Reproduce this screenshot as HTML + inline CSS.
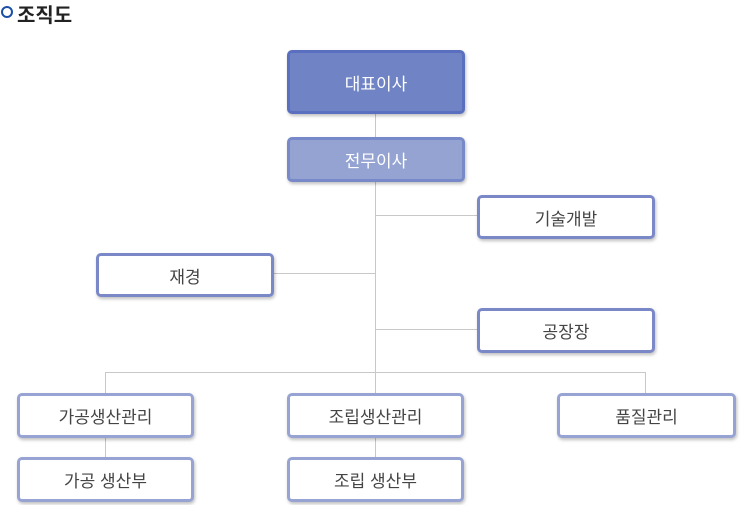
<!DOCTYPE html>
<html><head><meta charset="utf-8"><style>
body{margin:0;width:750px;height:505px;background:#fff;position:relative;overflow:hidden;font-family:"Liberation Sans","Noto Sans CJK KR",sans-serif}
.b{position:absolute;box-sizing:border-box;border:3px solid #7b88c8;border-radius:5px;background:#fff;color:#444;font-size:17px;display:flex;align-items:center;justify-content:center;box-shadow:1px 2px 3px rgba(0,0,0,.25)}
.l{border-color:#97a4d3}
.h{position:absolute;background:#c8c8c8;height:1px}
.v{position:absolute;background:#c8c8c8;width:1px}
</style></head><body>
<div style="position:absolute;left:1px;top:6px;width:8px;height:8px;border:2.5px solid #1b4fa8;border-radius:50%"></div>
<div style="position:absolute;left:17px;top:-1px;font-size:20px;font-weight:bold;color:#222">조직도</div>
<div class="v" style="left:375px;top:113px;height:259px"></div>
<div class="h" style="left:375px;top:215px;width:102px"></div>
<div class="h" style="left:273px;top:273px;width:102px"></div>
<div class="h" style="left:375px;top:329px;width:102px"></div>
<div class="h" style="left:105px;top:372px;width:541px"></div>
<div class="v" style="left:105px;top:372px;height:85px"></div>
<div class="v" style="left:375px;top:372px;height:85px"></div>
<div class="v" style="left:645px;top:372px;height:21px"></div>
<div class="b" style="left:287px;top:50px;width:178px;height:64px;background:#6f83c5;border-color:#5a6fc0;color:#fff">대표이사</div>
<div class="b" style="left:287px;top:137px;width:178px;height:45px;background:#94a3d2;border-color:#7889c9;color:#fff">전무이사</div>
<div class="b" style="left:477px;top:195px;width:178px;height:44px">기술개발</div>
<div class="b" style="left:96px;top:253px;width:178px;height:44px">재경</div>
<div class="b" style="left:477px;top:308px;width:178px;height:45px">공장장</div>
<div class="b l" style="left:17px;top:393px;width:177px;height:45px">가공생산관리</div>
<div class="b l" style="left:287px;top:393px;width:177px;height:45px">조립생산관리</div>
<div class="b l" style="left:557px;top:393px;width:179px;height:45px">품질관리</div>
<div class="b l" style="left:17px;top:457px;width:177px;height:45px">가공 생산부</div>
<div class="b l" style="left:287px;top:457px;width:177px;height:45px">조립 생산부</div>
</body></html>
